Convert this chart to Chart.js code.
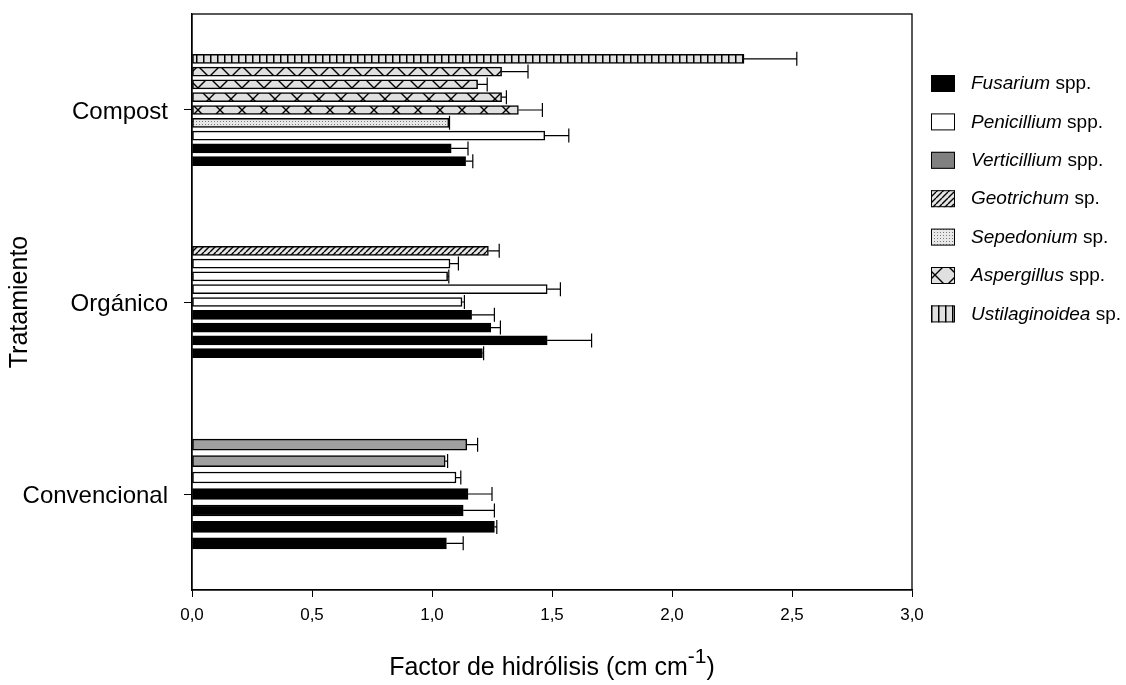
<!DOCTYPE html>
<html>
<head>
<meta charset="utf-8">
<script src="https://cdn.jsdelivr.net/npm/chart.js@4/dist/chart.umd.min.js"></script>
<style>
html,body{margin:0;padding:0;background:#fff;}
</style>
</head>
<body>
<canvas id="myChart" width="1126" height="685"></canvas>
<script>
var treatments = ['Convencional', 'Orgánico', 'Compost'];
var genera = ['Fusarium', 'Penicillium', 'Verticillium', 'Geotrichum', 'Sepedonium', 'Aspergillus', 'Ustilaginoidea'];
var generaSuffix = ['spp.', 'spp.', 'spp.', 'sp.', 'sp.', 'spp.', 'sp.'];
var xTicks = [0, 0.5, 1, 1.5, 2, 2.5, 3];

// bars of each treatment, bottom to top
var convencionalGenus = ['Fusarium', 'Fusarium', 'Fusarium', 'Fusarium', 'Penicillium', 'Verticillium', 'Verticillium'];
var convencionalValue = [1.06, 1.26, 1.13, 1.15, 1.10, 1.055, 1.145];
var convencionalError = [0.07, 0.01, 0.13, 0.10, 0.02, 0.01, 0.045];

var organicoGenus = ['Fusarium', 'Fusarium', 'Fusarium', 'Fusarium', 'Penicillium', 'Penicillium', 'Penicillium', 'Penicillium', 'Geotrichum'];
var organicoValue = [1.21, 1.48, 1.245, 1.165, 1.125, 1.48, 1.065, 1.075, 1.235];
var organicoError = [0.005, 0.185, 0.04, 0.095, 0.01, 0.055, 0.005, 0.035, 0.045];

var compostGenus = ['Fusarium', 'Fusarium', 'Penicillium', 'Sepedonium', 'Aspergillus', 'Aspergillus', 'Aspergillus', 'Aspergillus', 'Ustilaginoidea'];
var compostValue = [1.14, 1.08, 1.47, 1.07, 1.36, 1.29, 1.19, 1.29, 2.30];
var compostError = [0.03, 0.07, 0.10, 0.003, 0.10, 0.02, 0.04, 0.11, 0.22];

var FONT = "'Liberation Sans', Arial, sans-serif";
Chart.defaults.font.family = FONT;
Chart.defaults.color = '#000';

var canvas = document.getElementById('myChart');
var ctx = canvas.getContext('2d');

function makePattern(w, h, bg, draw) {
  var c = document.createElement('canvas');
  c.width = w; c.height = h;
  var g = c.getContext('2d');
  g.fillStyle = bg;
  g.fillRect(0, 0, w, h);
  g.strokeStyle = '#000';
  g.fillStyle = '#000';
  draw(g, w, h);
  return ctx.createPattern(c, 'repeat');
}

var fills = {
  Fusarium: '#000000',
  Penicillium: '#ffffff',
  Verticillium: '#a0a0a0',
  Geotrichum: makePattern(6, 6, '#e4e4e4', function(g, w, h) {
    g.lineWidth = 1.4;
    g.beginPath();
    for (var k = -1; k <= 1; k++) { g.moveTo(k * w, h); g.lineTo(k * w + w, 0); }
    g.stroke();
  }),
  Sepedonium: makePattern(3, 3, '#e8e8e8', function(g) {
    g.fillStyle = '#7a7a7a';
    g.fillRect(1, 1, 1, 1);
  }),
  Aspergillus: makePattern(22, 22, '#e0e0e0', function(g, w, h) {
    g.lineWidth = 1.4;
    g.beginPath();
    g.moveTo(0, 0); g.lineTo(w, h);
    g.moveTo(w, 0); g.lineTo(0, h);
    g.stroke();
  }),
  Ustilaginoidea: makePattern(7, 7, '#e0e0e0', function(g, w, h) {
    g.fillRect(0, 0, 1.5, h);
  })
};
var legendFills = {Verticillium: '#808080'};

function buildDataset(index, genus, values, errors, thickness) {
  var n = values.length;
  var step = 0.6 / n;
  var points = [];
  for (var i = 0; i < n; i++) {
    points.push({x: values[i], y: index + 0.5 + (i - (n - 1) / 2) * step});
  }
  return {
    label: treatments[index],
    data: points,
    errors: errors,
    backgroundColor: genus.map(function(g) { return fills[g]; }),
    borderColor: '#000',
    borderWidth: 1.5,
    borderSkipped: false,
    barThickness: thickness
  };
}

var errorBars = {
  id: 'errorBars',
  afterDatasetsDraw: function(chart) {
    var c = chart.ctx, xs = chart.scales.x;
    c.save();
    c.strokeStyle = '#000';
    c.lineWidth = 1.2;
    chart.data.datasets.forEach(function(ds, di) {
      chart.getDatasetMeta(di).data.forEach(function(bar, i) {
        var end = xs.getPixelForValue(ds.data[i].x + ds.errors[i]);
        c.beginPath();
        c.moveTo(bar.x, bar.y);
        c.lineTo(end, bar.y);
        c.moveTo(end, bar.y - 7);
        c.lineTo(end, bar.y + 7);
        c.stroke();
      });
    });
    c.restore();
  }
};

var decorations = {
  id: 'decorations',
  afterDraw: function(chart) {
    var c = chart.ctx, a = chart.chartArea;
    c.save();
    // frame
    c.strokeStyle = '#000';
    c.lineWidth = 1.3;
    c.strokeRect(a.left, a.top, a.right - a.left, a.bottom - a.top);

    // x axis title with superscript
    var cx = (a.left + a.right) / 2, by = 675;
    var main = 'Factor de hidrólisis (cm cm', sup = '-1', close = ')';
    c.fillStyle = '#000';
    c.textBaseline = 'alphabetic';
    c.textAlign = 'left';
    c.font = '25px ' + FONT;
    var w1 = c.measureText(main).width, w3 = c.measureText(close).width;
    c.font = '21px ' + FONT;
    var w2 = c.measureText(sup).width;
    var x0 = cx - (w1 + w2 + w3) / 2;
    c.font = '25px ' + FONT;
    c.fillText(main, x0, by);
    c.fillText(close, x0 + w1 + w2, by);
    c.font = '21px ' + FONT;
    c.fillText(sup, x0 + w1, by - 12);

    // legend
    for (var i = 0; i < genera.length; i++) {
      var y = 83 + i * 38.4;
      c.fillStyle = legendFills[genera[i]] || fills[genera[i]];
      c.fillRect(931, y - 8, 24, 17);
      c.lineWidth = 1;
      c.strokeStyle = '#000';
      c.strokeRect(931.5, y - 7.5, 23, 16);
      c.fillStyle = '#000';
      c.textBaseline = 'middle';
      c.font = 'italic 19px ' + FONT;
      c.fillText(genera[i], 971, y + 1);
      var gw = c.measureText(genera[i] + ' ').width;
      c.font = '19px ' + FONT;
      c.fillText(generaSuffix[i], 971 + gw, y + 1);
    }
    c.restore();
  }
};

var myChart = new Chart(ctx, {
  type: 'bar',
  data: {
    datasets: [
      buildDataset(0, convencionalGenus, convencionalValue, convencionalError, 11),
      buildDataset(1, organicoGenus, organicoValue, organicoError, 9),
      buildDataset(2, compostGenus, compostValue, compostError, 9)
    ]
  },
  plugins: [errorBars, decorations],
  options: {
    indexAxis: 'y',
    responsive: false,
    animation: false,
    grouped: false,
    layout: {padding: {left: 0, right: 214, top: 14, bottom: 0}},
    plugins: {
      legend: {display: false},
      tooltip: {enabled: false}
    },
    scales: {
      x: {
        type: 'linear',
        min: 0,
        max: 3,
        afterFit: function(s) { s.height = 95; s.paddingLeft = 0; s.paddingRight = 0; },
        afterBuildTicks: function(s) { s.ticks = xTicks.map(function(v) { return {value: v}; }); },
        ticks: {
          padding: 8,
          font: {size: 17},
          callback: function(v) { return v.toFixed(1).replace('.', ','); }
        },
        grid: {drawOnChartArea: false, tickLength: 7, color: '#000', lineWidth: 1},
        border: {display: true, color: '#000', width: 1.3}
      },
      y: {
        type: 'linear',
        min: 0,
        max: 3,
        offset: false,
        afterFit: function(s) { s.width = 192; s.paddingTop = 0; s.paddingBottom = 0; },
        afterBuildTicks: function(s) { s.ticks = treatments.map(function(t, i) { return {value: i + 0.5}; }); },
        ticks: {
          padding: 16,
          labelOffset: 2,
          font: {size: 24},
          callback: function(v) { return treatments[Math.floor(v)]; }
        },
        grid: {drawOnChartArea: false, offset: false, tickLength: 8, color: '#000', lineWidth: 1},
        border: {display: true, color: '#000', width: 1.3},
        title: {display: true, text: 'Tratamiento', font: {size: 25}, padding: {top: 5, bottom: 0}}
      }
    }
  }
});
</script>
</body>
</html>
